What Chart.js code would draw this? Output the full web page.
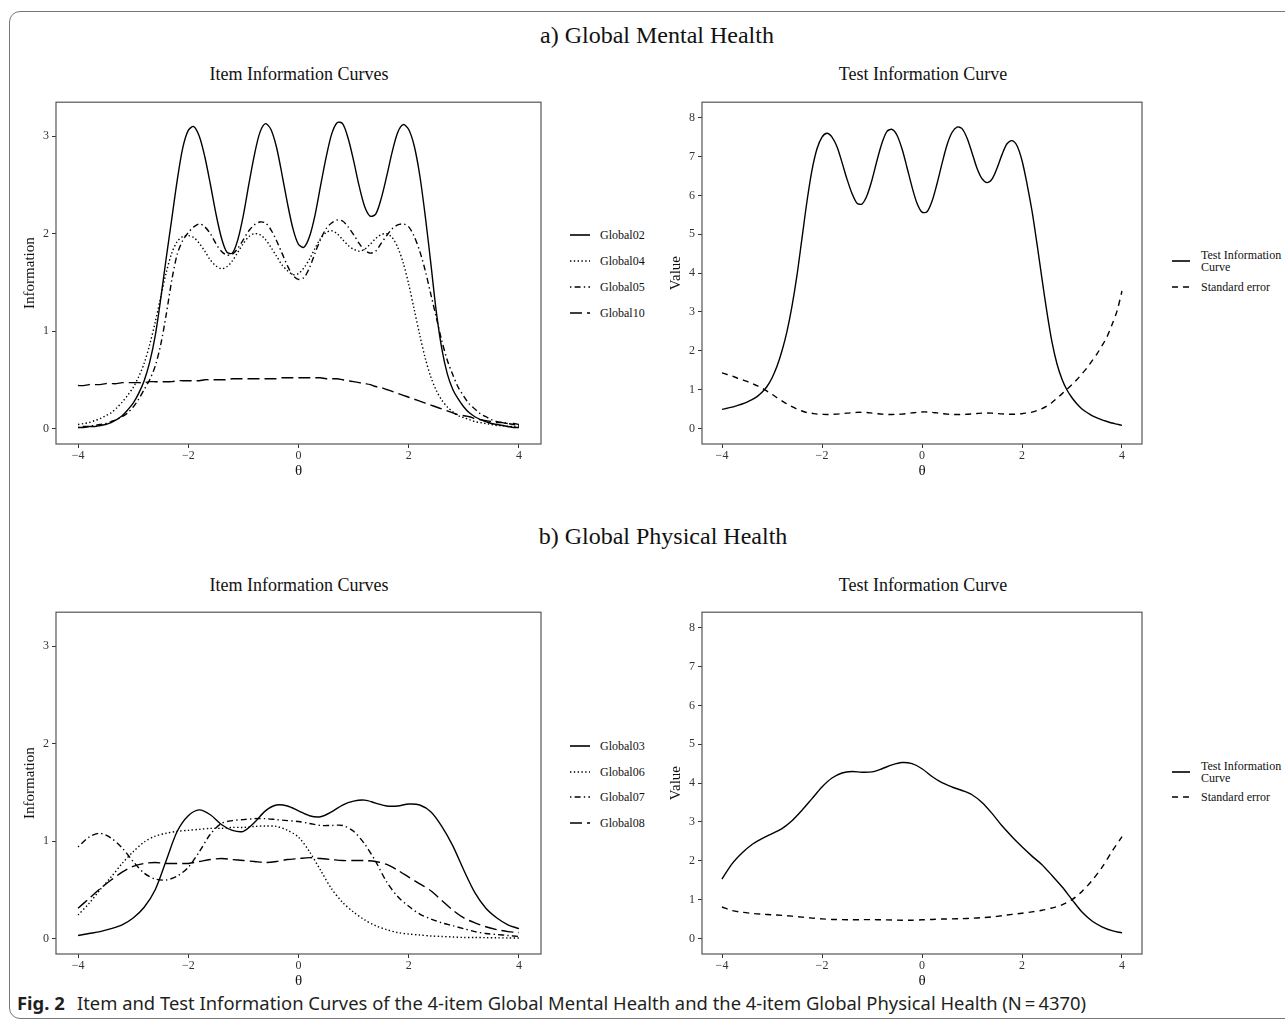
<!DOCTYPE html>
<html>
<head>
<meta charset="utf-8">
<script src="https://cdn.jsdelivr.net/npm/chart.js@4.4.1/dist/chart.umd.min.js"></script>
<style>
  body { margin:0; width:1285px; height:1025px; background:#fff; position:relative; overflow:hidden; font-family:"Liberation Serif", "Times New Roman", serif; color:#111; }
  .frame { position:absolute; left:9px; top:11px; width:1320px; height:1008px; border:1.5px solid #777; border-radius:11px; box-sizing:border-box; }
  .t { position:absolute; white-space:nowrap; transform:translate(-50%,-50%); }
  .main { font-size:24px; }
  .sub { font-size:18px; }
  canvas { position:absolute; }
  .leg { position:absolute; font-size:12px; white-space:nowrap; line-height:12px; }
  .leg svg { position:absolute; }
  .cap { position:absolute; left:17px; top:991px; font-family:"Noto Sans", "Open Sans", sans-serif; font-size:18px; color:#231f20; white-space:nowrap; transform-origin:0 0; }
  .cap b { font-weight:700; margin-right:12px; }
</style>
</head>
<body>
<div class="frame"></div>
<div class="t main" style="left:657px; top:35px;">a) Global Mental Health</div>
<div class="t sub" style="left:299px; top:74px;">Item Information Curves</div>
<div class="t sub" style="left:923px; top:74px;">Test Information Curve</div>
<div class="t main" style="left:663px; top:536px;">b) Global Physical Health</div>
<div class="t sub" style="left:299px; top:585px;">Item Information Curves</div>
<div class="t sub" style="left:923px; top:585px;">Test Information Curve</div>
<div class="cap" id="cap"><b>Fig. 2</b>Item and Test Information Curves of the 4-item Global Mental Health and the 4-item Global Physical Health (N&#8201;=&#8201;4370)</div>

<script>
// theta grids
const thetaMH = [-4.0,-3.9,-3.8,-3.7,-3.6,-3.5,-3.4,-3.3,-3.2,-3.1,-3.0,-2.9,-2.8,-2.7,-2.6,-2.5,-2.4,-2.3,-2.2,-2.1,-2.0,-1.9,-1.8,-1.7,-1.6,-1.5,-1.4,-1.3,-1.2,-1.1,-1.0,-0.9,-0.8,-0.7,-0.6,-0.5,-0.4,-0.3,-0.2,-0.1,0.0,0.1,0.2,0.3,0.4,0.5,0.6,0.7,0.8,0.9,1.0,1.1,1.2,1.3,1.4,1.5,1.6,1.7,1.8,1.9,2.0,2.1,2.2,2.3,2.4,2.5,2.6,2.7,2.8,2.9,3.0,3.1,3.2,3.3,3.4,3.5,3.6,3.7,3.8,3.9,4.0];
const thetaPH = [-4.0,-3.8,-3.6,-3.4,-3.2,-3.0,-2.8,-2.6,-2.4,-2.2,-2.0,-1.8,-1.6,-1.4,-1.2,-1.0,-0.8,-0.6,-0.4,-0.2,0.0,0.2,0.4,0.6,0.8,1.0,1.2,1.4,1.6,1.8,2.0,2.2,2.4,2.6,2.8,3.0,3.2,3.4,3.6,3.8,4.0];

// a) global mental health, item information
const global02 = [0.01,0.01,0.02,0.02,0.03,0.04,0.06,0.09,0.13,0.19, 0.26,0.36,0.49,0.68,0.95,1.33,1.75,2.15,2.55,2.88, 3.06,3.10,3.00,2.79,2.51,2.21,1.96,1.81,1.80,1.94, 2.19,2.51,2.81,3.04,3.13,3.07,2.89,2.61,2.31,2.05, 1.89,1.86,1.97,2.19,2.49,2.78,3.02,3.14,3.13,2.98, 2.75,2.49,2.28,2.18,2.20,2.36,2.59,2.84,3.04,3.12, 3.07,2.90,2.60,2.18,1.70,1.20,0.82,0.56,0.40,0.30, 0.22,0.16,0.12,0.09,0.07,0.05,0.04,0.03,0.02,0.01, 0.01];
const global04 = [0.04,0.05,0.06,0.08,0.10,0.13,0.16,0.21,0.27,0.34, 0.42,0.53,0.67,0.86,1.09,1.35,1.60,1.80,1.92,1.97, 1.98,1.96,1.90,1.82,1.73,1.67,1.64,1.66,1.72,1.81, 1.90,1.97,2.00,1.99,1.94,1.86,1.77,1.68,1.62,1.58, 1.59,1.65,1.74,1.85,1.95,2.01,2.03,2.00,1.94,1.88, 1.84,1.82,1.84,1.89,1.95,1.99,2.00,1.96,1.86,1.70, 1.48,1.22,0.96,0.72,0.53,0.39,0.29,0.22,0.17,0.13, 0.11,0.09,0.07,0.06,0.05,0.04,0.03,0.03,0.02,0.02, 0.02];
const global05 = [0.01,0.02,0.02,0.03,0.04,0.05,0.07,0.09,0.12,0.16, 0.22,0.30,0.40,0.50,0.64,0.86,1.17,1.52,1.79,1.93, 2.01,2.07,2.10,2.07,2.00,1.90,1.82,1.78,1.79,1.85, 1.94,2.03,2.09,2.12,2.11,2.04,1.93,1.80,1.67,1.57, 1.53,1.55,1.65,1.80,1.94,2.05,2.11,2.14,2.13,2.07, 1.99,1.90,1.83,1.80,1.82,1.90,1.98,2.05,2.09,2.10, 2.07,1.97,1.82,1.62,1.38,1.14,0.90,0.70,0.55,0.42, 0.33,0.25,0.20,0.15,0.12,0.09,0.07,0.06,0.05,0.04, 0.03];
const global10 = [0.44,0.44,0.45,0.45,0.45,0.46,0.46,0.46,0.47,0.47, 0.47,0.47,0.47,0.48,0.48,0.48,0.48,0.48,0.49,0.49, 0.49,0.49,0.49,0.50,0.50,0.50,0.50,0.50,0.51,0.51, 0.51,0.51,0.51,0.51,0.51,0.51,0.51,0.52,0.52,0.52, 0.52,0.52,0.52,0.52,0.52,0.51,0.51,0.51,0.50,0.49, 0.48,0.47,0.46,0.45,0.43,0.42,0.40,0.38,0.36,0.34, 0.32,0.30,0.28,0.26,0.24,0.22,0.20,0.18,0.16,0.14, 0.13,0.12,0.10,0.09,0.08,0.07,0.06,0.06,0.05,0.05, 0.04];

// a) test information and standard error
const testInfoMH = [0.49,0.52,0.55,0.59,0.63,0.68,0.74,0.82,0.93,1.08, 1.30,1.60,2.00,2.50,3.15,3.95,4.90,5.85,6.65,7.20, 7.50,7.60,7.50,7.25,6.85,6.42,6.05,5.80,5.78,6.00, 6.40,6.90,7.35,7.65,7.70,7.55,7.20,6.72,6.22,5.80, 5.57,5.58,5.85,6.30,6.82,7.30,7.62,7.76,7.72,7.48, 7.10,6.70,6.43,6.33,6.42,6.70,7.05,7.33,7.41,7.28, 6.90,6.30,5.60,4.75,3.85,2.98,2.22,1.66,1.27,0.99, 0.79,0.63,0.50,0.41,0.33,0.27,0.22,0.18,0.14,0.11, 0.08];
const stdErrMH = [1.43,1.39,1.35,1.30,1.26,1.21,1.16,1.10,1.04,0.96, 0.88,0.79,0.71,0.63,0.56,0.50,0.45,0.41,0.39,0.37, 0.365,0.36,0.365,0.37,0.38,0.395,0.405,0.415,0.415,0.41, 0.395,0.38,0.37,0.36,0.36,0.365,0.37,0.385,0.40,0.415, 0.425,0.425,0.415,0.40,0.385,0.37,0.36,0.36,0.36,0.365, 0.375,0.385,0.395,0.40,0.395,0.385,0.375,0.37,0.365,0.37, 0.38,0.40,0.42,0.46,0.51,0.58,0.67,0.78,0.89,1.01, 1.13,1.26,1.41,1.56,1.74,1.92,2.13,2.36,2.67,3.02, 3.54];

// b) global physical health, item information
const global03 = [0.03,0.05,0.07,0.10,0.14,0.21,0.32,0.50,0.80,1.10, 1.26,1.32,1.27,1.17,1.11,1.10,1.19,1.31,1.37,1.36, 1.31,1.26,1.25,1.30,1.37,1.41,1.42,1.39,1.36,1.36, 1.38,1.37,1.30,1.15,0.95,0.70,0.47,0.31,0.21,0.14, 0.10];
const global06 = [0.24,0.36,0.50,0.63,0.77,0.89,0.99,1.05,1.08,1.10, 1.11,1.12,1.13,1.13,1.14,1.14,1.15,1.155,1.15,1.11, 1.04,0.89,0.70,0.51,0.37,0.27,0.19,0.13,0.09,0.06, 0.045,0.035,0.025,0.02,0.015,0.01,0.01,0.008,0.006,0.005, 0.005];
const global07 = [0.94,1.04,1.08,1.03,0.93,0.79,0.67,0.61,0.60,0.64, 0.73,0.89,1.07,1.18,1.21,1.22,1.23,1.23,1.22,1.21, 1.20,1.18,1.16,1.16,1.16,1.10,0.97,0.79,0.58,0.43, 0.33,0.25,0.20,0.16,0.13,0.10,0.07,0.05,0.04,0.03, 0.02];
const global08 = [0.31,0.41,0.51,0.60,0.68,0.74,0.77,0.78,0.77,0.77, 0.77,0.79,0.81,0.82,0.81,0.80,0.79,0.78,0.79,0.81, 0.82,0.83,0.82,0.81,0.80,0.80,0.80,0.79,0.76,0.70, 0.63,0.56,0.49,0.39,0.29,0.21,0.16,0.12,0.09,0.07, 0.06];

// b) test information and standard error
const testInfoPH = [1.53,1.92,2.20,2.42,2.57,2.70,2.83,3.03,3.30,3.60, 3.90,4.13,4.26,4.30,4.28,4.29,4.37,4.47,4.53,4.50, 4.37,4.17,4.01,3.90,3.81,3.70,3.50,3.22,2.90,2.62, 2.36,2.12,1.90,1.62,1.33,1.00,0.68,0.45,0.30,0.20, 0.145];
const stdErrPH = [0.81,0.72,0.675,0.645,0.625,0.61,0.595,0.575,0.55,0.525, 0.505,0.49,0.485,0.48,0.485,0.485,0.48,0.475,0.47,0.47, 0.48,0.49,0.50,0.505,0.51,0.52,0.535,0.555,0.585,0.62, 0.65,0.685,0.725,0.785,0.865,1.00,1.21,1.49,1.83,2.24, 2.62];

// axis ticks
const xTicks = [-4, -2, 0, 2, 4];
const yTicksItem = [0, 1, 2, 3];
const yTicksTest = [0, 1, 2, 3, 4, 5, 6, 7, 8];

// line types (ggplot style)
const DASH = { solid: [], dotted: [1.4, 2.4], dotdash: [1.4, 3.2, 6, 3.2], dashed: [6, 5], longdash: [12, 5] };
const SERIF = 'Liberation Serif';

const fmt = v => v < 0 ? '\u2212' + Math.abs(v) : String(v);

const panelBorder = {
  id: 'panelBorder',
  afterDraw(chart) {
    const { ctx, chartArea: a } = chart;
    ctx.save();
    ctx.strokeStyle = '#555';
    ctx.lineWidth = 1.2;
    ctx.strokeRect(a.left, a.top, a.right - a.left, a.bottom - a.top);
    ctx.restore();
  }
};

function series(xs, ys, dash) {
  return {
    data: xs.map((x, i) => ({ x: x, y: ys[i] })),
    borderColor: '#000',
    borderWidth: 1.4,
    borderDash: dash,
    pointRadius: 0,
    tension: 0.3,
    fill: false
  };
}

function makePanel(pos, datasets, yMin, yMax, yTicks, yTitle) {
  const cv = document.createElement('canvas');
  cv.width = pos.w; cv.height = pos.h;
  cv.style.left = pos.left + 'px'; cv.style.top = pos.top + 'px';
  cv.style.width = pos.w + 'px'; cv.style.height = pos.h + 'px';
  document.body.appendChild(cv);
  return new Chart(cv, {
    type: 'line',
    data: { datasets: datasets },
    plugins: [panelBorder],
    options: {
      responsive: false,
      animation: false,
      layout: { padding: { top: 5, right: 5, left: 0, bottom: 0 } },
      plugins: { legend: { display: false }, tooltip: { enabled: false } },
      scales: {
        x: {
          type: 'linear', min: -4.4, max: 4.4,
          afterBuildTicks: s => { s.ticks = xTicks.map(v => ({ value: v })); },
          afterFit: s => { s.height = 38; },
          grid: { drawOnChartArea: false, drawTicks: true, tickLength: 4, color: '#333' },
          border: { display: false },
          ticks: { color: '#333', font: { family: SERIF, size: 12 }, padding: 1, maxRotation: 0, callback: fmt },
          title: { display: true, text: '\u03b8', color: '#111', font: { family: SERIF, size: 15 }, padding: { top: 0, bottom: 2 } }
        },
        y: {
          type: 'linear', min: yMin, max: yMax,
          afterBuildTicks: s => { s.ticks = yTicks.map(v => ({ value: v })); },
          afterFit: s => { s.width = 42; },
          grid: { drawOnChartArea: false, drawTicks: true, tickLength: 4, color: '#333' },
          border: { display: false },
          ticks: { color: '#333', font: { family: SERIF, size: 12 }, padding: 3, callback: fmt },
          title: { display: true, text: yTitle, color: '#111', font: { family: SERIF, size: 15 }, padding: { top: 7, bottom: 0 } }
        }
      }
    }
  });
}

function legendLine(x, y, len, dash) {
  const svg = document.createElementNS('http://www.w3.org/2000/svg', 'svg');
  svg.setAttribute('width', len); svg.setAttribute('height', 4);
  svg.style.position = 'absolute';
  svg.style.left = x + 'px'; svg.style.top = (y - 2) + 'px';
  const ln = document.createElementNS('http://www.w3.org/2000/svg', 'line');
  ln.setAttribute('x1', 0); ln.setAttribute('x2', len);
  ln.setAttribute('y1', 2); ln.setAttribute('y2', 2);
  ln.setAttribute('stroke', '#000'); ln.setAttribute('stroke-width', 1.6);
  if (dash.length) ln.setAttribute('stroke-dasharray', dash.join(' '));
  svg.appendChild(ln);
  document.body.appendChild(svg);
}

function legendText(x, y, html, lines) {
  const d = document.createElement('div');
  d.className = 'leg';
  d.style.left = x + 'px';
  d.style.top = (y - 6 * lines) + 'px';
  d.innerHTML = html;
  document.body.appendChild(d);
}

// panels
makePanel({ left: 14, top: 92, w: 532, h: 390 }, [
  series(thetaMH, global02, DASH.solid),
  series(thetaMH, global04, DASH.dotted),
  series(thetaMH, global05, DASH.dotdash),
  series(thetaMH, global10, DASH.longdash)
], -0.16, 3.35, yTicksItem, 'Information');

makePanel({ left: 660, top: 92, w: 487, h: 390 }, [
  series(thetaMH, testInfoMH, DASH.solid),
  series(thetaMH, stdErrMH, DASH.dashed)
], -0.4, 8.4, yTicksTest, 'Value');

makePanel({ left: 14, top: 602, w: 532, h: 390 }, [
  series(thetaPH, global03, DASH.solid),
  series(thetaPH, global06, DASH.dotted),
  series(thetaPH, global07, DASH.dotdash),
  series(thetaPH, global08, DASH.longdash)
], -0.16, 3.35, yTicksItem, 'Information');

makePanel({ left: 660, top: 602, w: 487, h: 390 }, [
  series(thetaPH, testInfoPH, DASH.solid),
  series(thetaPH, stdErrPH, DASH.dashed)
], -0.4, 8.4, yTicksTest, 'Value');

// legends
const itemNamesMH = ['Global02', 'Global04', 'Global05', 'Global10'];
const itemNamesPH = ['Global03', 'Global06', 'Global07', 'Global08'];
const itemDash = [DASH.solid, DASH.dotted, DASH.dotdash, DASH.longdash];
const rowsMH = [235, 261, 287, 313];
const rowsPH = [746, 772, 797, 823];
itemNamesMH.forEach((n, i) => { legendLine(570, rowsMH[i], 20, itemDash[i]); legendText(600, rowsMH[i], n, 1); });
itemNamesPH.forEach((n, i) => { legendLine(570, rowsPH[i], 20, itemDash[i]); legendText(600, rowsPH[i], n, 1); });

[[261, 287], [772, 797]].forEach(r => {
  legendLine(1172, r[0], 18, DASH.solid);
  legendText(1201, r[0], 'Test Information<br>Curve', 2);
  legendLine(1172, r[1], 18, DASH.dashed);
  legendText(1201, r[1], 'Standard error', 1);
});

// stretch caption to the printed width
const cap = document.getElementById('cap');
const fitCap = () => {
  cap.style.transform = 'none';
  const w = cap.getBoundingClientRect().width;
  cap.style.transform = 'scaleX(' + (1069 / w) + ')';
};
fitCap();
if (document.fonts) document.fonts.ready.then(fitCap);
</script>
</body>
</html>
